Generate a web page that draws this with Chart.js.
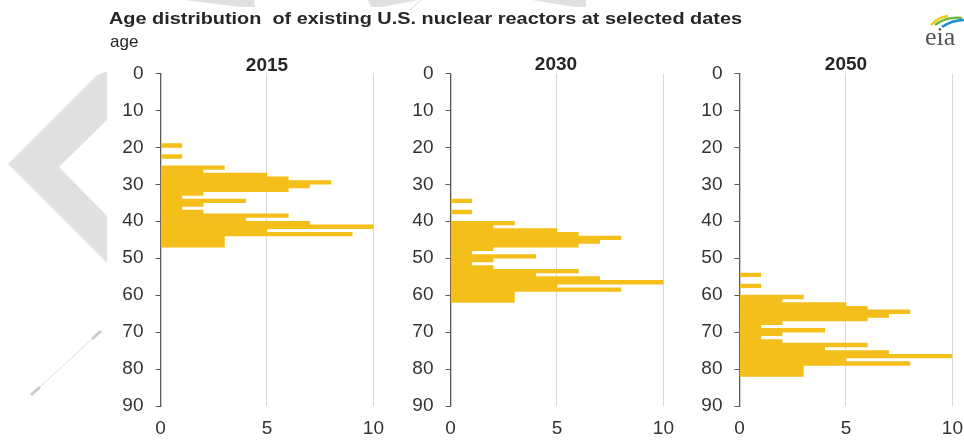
<!DOCTYPE html>
<html>
<head>
<meta charset="utf-8">
<script src="https://cdn.jsdelivr.net/npm/chart.js@4.4.1/dist/chart.umd.min.js"></script>
<style>
  html, body { margin: 0; padding: 0; background: #fff; overflow: hidden; }
  #wrap { position: relative; width: 964px; height: 440px; overflow: hidden; }
  #wrap svg, #wrap canvas { position: absolute; }
  #bg, #fg { left: 0; top: 0; pointer-events: none; }
  #fg { z-index: 2; }
</style>
</head>
<body>
<div id="wrap">
  <!-- faint eia watermark -->
  <svg id="bg" width="964" height="440">
    <g fill="#e0e0e0">
      <polygon points="8,164 96,76 107,71 107,120 59,167 107,216 107,263"/>
      <polygon points="184,0 254,0 255,7 241,7"/>
      <polygon points="368,0 418,0 382,7 371,7"/>
      <polygon points="532,0 586,0 586,7 575,7"/>
    </g>
    <line x1="421" y1="0" x2="410" y2="10" stroke="#d6d6d6" stroke-width="1"/>
    <line x1="31" y1="395" x2="101" y2="331" stroke="#dcdcdc" stroke-width="1"/>
    <line x1="31" y1="395" x2="40" y2="387" stroke="#cccccc" stroke-width="3"/>
    <line x1="92" y1="339" x2="101" y2="331" stroke="#cccccc" stroke-width="3"/>
  </svg>

  <canvas id="p2015" width="295" height="390" style="left:100px;top:50px"></canvas>
  <canvas id="p2030" width="295" height="390" style="left:390px;top:50px"></canvas>
  <canvas id="p2050" width="295" height="390" style="left:679px;top:50px"></canvas>

  <svg id="fg" width="964" height="440" font-family="'Liberation Sans', Arial, sans-serif">
    <text x="109" y="24" font-size="17" font-weight="bold" fill="#262626" xml:space="preserve" textLength="633" lengthAdjust="spacingAndGlyphs">Age distribution  of existing U.S. nuclear reactors at selected dates</text>
    <text x="110" y="47" font-size="17" fill="#262626">age</text>
    <g font-size="19" font-weight="bold" fill="#262626" text-anchor="middle">
      <text x="267" y="70.5">2015</text>
      <text x="556" y="70">2030</text>
      <text x="846" y="70">2050</text>
    </g>
    <!-- eia logo -->
    <path d="M931 25 Q938 17 948 16" stroke="#f2c81b" stroke-width="2.5" fill="none"/>
    <path d="M935 25 Q946 16 962 18" stroke="#74b844" stroke-width="2.5" fill="none"/>
    <path d="M942 27 Q952 20 964 20" stroke="#1a8fd6" stroke-width="2.5" fill="none"/>
    <text x="925" y="45" font-family="'Liberation Serif', 'DejaVu Serif', serif" font-size="26" fill="#555">eia</text>
  </svg>
</div>

<script>
// age of each reactor group (years) and number of reactors at that age
const ages2015 = [19, 22, 25, 26, 27, 28, 29, 30, 31, 32, 33, 34, 35, 36, 37, 38, 39, 40, 41, 42, 43, 44, 45, 46];
const reactors2015 = [1, 1, 3, 2, 5, 6, 8, 7, 6, 2, 1, 4, 2, 1, 2, 6, 4, 7, 10, 5, 9, 3, 3, 3];

const ages2030 = [34, 37, 40, 41, 42, 43, 44, 45, 46, 47, 48, 49, 50, 51, 52, 53, 54, 55, 56, 57, 58, 59, 60, 61];
const reactors2030 = [1, 1, 3, 2, 5, 6, 8, 7, 6, 2, 1, 4, 2, 1, 2, 6, 4, 7, 10, 5, 8, 3, 3, 3];

const ages2050 = [54, 57, 60, 61, 62, 63, 64, 65, 66, 67, 68, 69, 70, 71, 72, 73, 74, 75, 76, 77, 78, 79, 80, 81];
const reactors2050 = [1, 1, 3, 2, 5, 6, 8, 7, 6, 2, 1, 4, 2, 1, 2, 6, 4, 7, 10, 5, 8, 3, 3, 3];

const ageTicks = [0, 10, 20, 30, 40, 50, 60, 70, 80, 90];
const countTicks = [0, 5, 10];

const BAR_COLOR = "#f4be1b";
const FONT = "'Liberation Sans', Arial, sans-serif";

function makePanel(canvasId, ages, counts) {
    // each bar covers one year of age: [age, age + 1)
    const points = ages.map((a, i) => ({ x: counts[i], y: a + 0.5 }));

    return new Chart(document.getElementById(canvasId), {
        type: "bar",
        data: {
            datasets: [{
                data: points,
                backgroundColor: BAR_COLOR,
                borderWidth: 0,
                barPercentage: 1,
                categoryPercentage: 1
            }]
        },
        options: {
            indexAxis: "y",
            responsive: false,
            animation: false,
            layout: { padding: { top: 18.3, right: 12, bottom: 0, left: 0 } },
            plugins: {
                legend: { display: false },
                tooltip: { enabled: false }
            },
            scales: {
                y: {
                    type: "linear",
                    reverse: true,
                    min: 0,
                    max: 90,
                    offset: false,
                    afterBuildTicks: s => { s.ticks = ageTicks.map(v => ({ value: v })); },
                    afterFit: s => { s.width = 60.5; },
                    ticks: {
                        color: "#333",
                        font: { family: FONT, size: 19 },
                        padding: 12,
                        autoSkip: false
                    },
                    grid: {
                        offset: false,
                        drawOnChartArea: false,
                        drawTicks: true,
                        tickLength: 5,
                        color: "#595959",
                        lineWidth: 1
                    },
                    border: { display: true, color: "#595959", width: 1.3 }
                },
                x: {
                    type: "linear",
                    min: 0,
                    max: 10,
                    afterBuildTicks: s => { s.ticks = countTicks.map(v => ({ value: v })); },
                    afterFit: s => { s.height = 34; },
                    ticks: {
                        color: "#333",
                        font: { family: FONT, size: 19 },
                        padding: 11,
                        maxRotation: 0
                    },
                    grid: {
                        drawTicks: false,
                        lineWidth: 1,
                        color: c => (c.tick && c.tick.value === 0) ? "rgba(0,0,0,0)" : "#d9d9d9"
                    },
                    border: { display: false }
                }
            }
        }
    });
}

makePanel("p2015", ages2015, reactors2015);
makePanel("p2030", ages2030, reactors2030);
makePanel("p2050", ages2050, reactors2050);
</script>
</body>
</html>
